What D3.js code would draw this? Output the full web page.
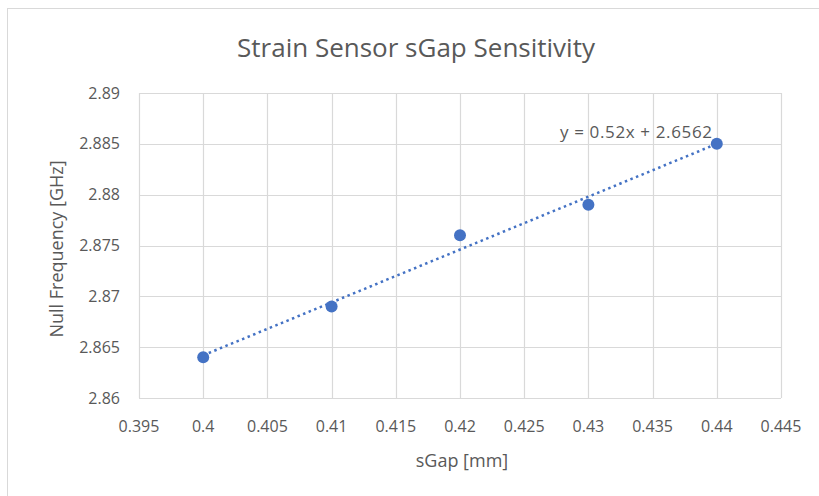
<!DOCTYPE html>
<html>
<head>
<meta charset="utf-8">
<script src="https://d3js.org/d3.v7.min.js"></script>
<style>
body { margin: 0; background: #fff; }
svg text { font-family: "Open Sans", "Noto Sans", Arial, sans-serif; fill: #595959; }
</style>
</head>
<body>
<div id="chart"></div>
<script>
// data
const sGap = [0.40, 0.41, 0.42, 0.43, 0.44];
const nullFreq = [2.864, 2.869, 2.876, 2.879, 2.885];
const xTicks = [0.395, 0.4, 0.405, 0.41, 0.415, 0.42, 0.425, 0.43, 0.435, 0.44, 0.445];
const yTicks = [2.86, 2.865, 2.87, 2.875, 2.88, 2.885, 2.89];
const slope = 0.52, intercept = 2.6562;

const width = 819, height = 496;
const svg = d3.select("#chart").append("svg")
    .attr("width", width).attr("height", height);

// chart frame
svg.append("rect")
    .attr("x", 7.5).attr("y", 8.5)
    .attr("width", 830).attr("height", 500)
    .attr("fill", "#fff").attr("stroke", "#d9d9d9");

const x = d3.scaleLinear().domain([0.395, 0.445]).range([139, 781]);
const y = d3.scaleLinear().domain([2.86, 2.89]).range([398, 93]);

// grid
svg.append("g").selectAll("line").data(xTicks).join("line")
    .attr("x1", d => Math.round(x(d)) + 0.5).attr("x2", d => Math.round(x(d)) + 0.5)
    .attr("y1", y(2.89)).attr("y2", y(2.86))
    .attr("stroke", "#d9d9d9").attr("stroke-width", 1.2);
svg.append("g").selectAll("line").data(yTicks).join("line")
    .attr("y1", d => Math.round(y(d)) + 0.5).attr("y2", d => Math.round(y(d)) + 0.5)
    .attr("x1", x(0.395)).attr("x2", x(0.445))
    .attr("stroke", "#d9d9d9").attr("stroke-width", 1.2);

// tick labels
svg.append("g").selectAll("text").data(xTicks).join("text")
    .attr("x", d => x(d)).attr("y", 432)
    .attr("text-anchor", "middle")
    .style("font-size", "16px")
    .text(d => +d.toFixed(3));
svg.append("g").selectAll("text").data(yTicks).join("text")
    .attr("x", 120).attr("y", d => y(d) + 5.5)
    .attr("text-anchor", "end")
    .style("font-size", "16px")
    .text(d => +d.toFixed(3));

// trendline
const fit = v => slope * v + intercept;
svg.append("line")
    .attr("x1", x(sGap[0])).attr("y1", y(fit(sGap[0])))
    .attr("x2", x(sGap[sGap.length - 1])).attr("y2", y(fit(sGap[sGap.length - 1])))
    .attr("stroke", "#4472C4").attr("stroke-width", 2.5)
    .attr("stroke-dasharray", "2.5 3.5");

// points
svg.append("g").selectAll("circle").data(sGap).join("circle")
    .attr("cx", d => x(d)).attr("cy", (d, i) => y(nullFreq[i]))
    .attr("r", 6).attr("fill", "#4472C4");

// equation
svg.append("text")
    .attr("x", 636).attr("y", 138)
    .attr("text-anchor", "middle")
    .attr("textLength", 152)
    .style("font-size", "17px")
    .text("y = 0.52x + 2.6562");

// titles
svg.append("text")
    .attr("x", 416).attr("y", 57)
    .attr("text-anchor", "middle")
    .style("font-size", "26px")
    .text("Strain Sensor sGap Sensitivity");
svg.append("text")
    .attr("x", 462).attr("y", 467)
    .attr("text-anchor", "middle")
    .style("font-size", "18px")
    .text("sGap [mm]");
svg.append("text")
    .attr("transform", "translate(63,249) rotate(-90)")
    .attr("text-anchor", "middle")
    .style("font-size", "18px")
    .text("Null Frequency [GHz]");
</script>
</body>
</html>
